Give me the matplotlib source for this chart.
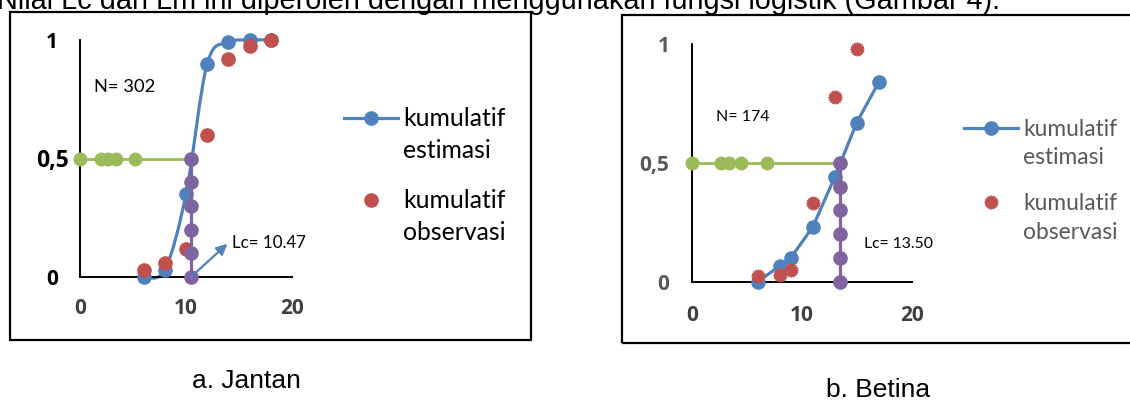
import matplotlib
matplotlib.use("Agg")
import matplotlib.pyplot as plt
from matplotlib.patches import Rectangle, PathPatch
from matplotlib.path import Path
from matplotlib.lines import Line2D
import numpy as np

# a. Jantan
j_len = [6, 8, 10, 12, 14, 16, 18]
j_est = [0.0, 0.03, 0.35, 0.90, 0.99, 1.0, 1.0]
j_obs = [0.03, 0.06, 0.12, 0.60, 0.92, 0.975, 1.0]
j_lc = 10.47
j_n = 302
j_half_x = [0, 2.0, 2.6, 3.4, 5.2, j_lc]
j_drop_y = [0.5, 0.4, 0.3, 0.2, 0.1, 0.0]

# b. Betina
b_len_est = [6, 8, 9, 11, 13, 15, 17]
b_est = [0.0, 0.066, 0.10, 0.23, 0.44, 0.67, 0.84]
b_len_obs = [6, 8, 9, 11, 13, 15]
b_obs = [0.024, 0.03, 0.05, 0.33, 0.78, 0.98]
b_lc = 13.50
b_n = 174
b_half_x = [0, 2.7, 3.4, 4.5, 6.8, b_lc]
b_drop_y = [0.5, 0.4, 0.3, 0.2, 0.1, 0.0]

xticks = [0, 10, 20]
yticks = [0, 0.5, 1]
ylabels = ["0", "0,5", "1"]

BLUE = "#4F81BD"
RED = "#C0504D"
GREEN = "#9BBB59"
PURPLE = "#8064A2"

W, H = 1130, 401
fig = plt.figure(figsize=(W / 100, H / 100), dpi=100)


def fx(px):
    return px / W


def fy(py):
    return 1 - py / H


def smooth_path(xs, ys, t=1 / 6):
    # excel-like smoothed line (catmull-rom as bezier)
    pts = np.column_stack([xs, ys]).astype(float)
    n = len(pts)
    verts = [pts[0]]
    codes = [Path.MOVETO]
    for i in range(n - 1):
        p0 = pts[max(i - 1, 0)]
        p1 = pts[i]
        p2 = pts[i + 1]
        p3 = pts[min(i + 2, n - 1)]
        verts += [p1 + (p2 - p0) * t, p2 - (p3 - p1) * t, p2]
        codes += [Path.CURVE4] * 3
    return Path(verts, codes)


def setup(ax, ycol, xcol, xpad, ypad, yha):
    ax.set_xlim(0, 20)
    ax.set_ylim(0, 1)
    ax.patch.set_alpha(0)
    for s in ["top", "right"]:
        ax.spines[s].set_visible(False)
    for s in ["left", "bottom"]:
        ax.spines[s].set_color("black")
        ax.spines[s].set_linewidth(1.4)
    ax.set_xticks(xticks)
    ax.set_yticks(yticks)
    ax.set_yticklabels(ylabels)
    ax.tick_params(length=0)
    ax.tick_params(axis="x", pad=xpad, labelcolor=xcol)
    ax.tick_params(axis="y", pad=ypad, labelcolor=ycol)
    for lab in ax.get_xticklabels() + ax.get_yticklabels():
        lab.set_fontfamily("Open Sans")
        lab.set_fontweight("bold")
        lab.set_fontsize(15)
    for lab in ax.get_yticklabels():
        lab.set_horizontalalignment(yha)


# frames
fig.add_artist(Rectangle((fx(10), fy(340)), fx(521), 328 / H, transform=fig.transFigure,
                         fill=False, lw=1.6, ec="black"))
fig.add_artist(Rectangle((fx(622), fy(343)), fx(530), 328 / H, transform=fig.transFigure,
                         fill=False, lw=1.6, ec="black"))

# ---------- a. Jantan ----------
ax1 = fig.add_axes([fx(80), fy(277), fx(212), 237 / H])
setup(ax1, "black", "#404040", 15, 20, "center")
ax1.get_yticklabels()[1].set_fontsize(16.5)
ax1.add_patch(PathPatch(smooth_path(j_len, j_est), fill=False, ec=BLUE, lw=2.3,
                        clip_on=False, zorder=2))
ax1.plot(j_len, j_est, "o", color=BLUE, ms=9.5, clip_on=False, zorder=3)
ax1.plot(j_len, j_obs, "o", color=RED, ms=9.5, clip_on=False, zorder=4)
ax1.plot(j_half_x, [0.5] * len(j_half_x), "-o", color=GREEN, lw=2, ms=9,
         clip_on=False, zorder=5)
ax1.plot([j_lc] * len(j_drop_y), j_drop_y, "-o", color=PURPLE, lw=2.3, ms=9.5,
         clip_on=False, zorder=6)
ax1.annotate("", xy=(13.9, 0.14), xytext=(j_lc, 0),
             arrowprops=dict(arrowstyle="-|>", color=BLUE, lw=1.6, mutation_scale=16,
                             shrinkA=0, shrinkB=0), zorder=7)
ax1.text(14.35, 0.145, f"Lc= {j_lc:.2f}", fontsize=12.2, family="Lato", va="center")
ax1.text(1.3, 0.8, f"N= {j_n}", fontsize=13.2, family="Lato", va="center")

# ---------- b. Betina ----------
ax2 = fig.add_axes([fx(691.7), fy(281.7), fx(220), 237.4 / H])
setup(ax2, "#595959", "#404040", 17, 16, "right")
star = Path.unit_regular_star(16, 0.78)
ax2.plot(b_len_est, b_est, "-o", color=BLUE, lw=2.3, ms=9.5, clip_on=False, zorder=3)
ax2.plot(b_len_obs, b_obs, linestyle="none", marker=star, color=RED, ms=9.5,
         clip_on=False, zorder=4)
ax2.plot(b_half_x, [0.5] * len(b_half_x), "-o", color=GREEN, lw=2, ms=9,
         clip_on=False, zorder=5)
ax2.plot([b_lc] * len(b_drop_y), b_drop_y, "-o", color=PURPLE, lw=2.3, ms=9.5,
         clip_on=False, zorder=6)
ax2.text(15.7, 0.16, f"Lc= {b_lc:.2f}", fontsize=11.3, family="Lato", va="center")
ax2.text(2.2, 0.695, f"N= {b_n}", fontsize=11.5, family="Lato", va="center")


# legends (drawn by hand so the marker sits on the first text line)
def legend(x0, x1, xt, y_est, y_obs, gap, col, size, obs_marker):
    fig.add_artist(Line2D([fx(x0), fx(x1)], [fy(y_est)] * 2, transform=fig.transFigure,
                          color=BLUE, lw=2.3))
    fig.add_artist(Line2D([fx((x0 + x1) / 2)], [fy(y_est)], transform=fig.transFigure,
                          color=BLUE, marker="o", ms=9.5, ls="none"))
    fig.add_artist(Line2D([fx((x0 + x1) / 2)], [fy(y_obs)], transform=fig.transFigure,
                          color=RED, marker=obs_marker, ms=9.5, ls="none"))
    for y, second in [(y_est, "estimasi"), (y_obs, "observasi")]:
        fig.text(fx(xt), fy(y + 1), "kumulatif", fontsize=size, family="Lato",
                 color=col, va="center", ha="left")
        fig.text(fx(xt), fy(y + 1 + gap), second, fontsize=size, family="Lato",
                 color=col, va="center", ha="left")


legend(344, 398, 403, 118, 200, 32, "black", 17.8, "o")
legend(964, 1018, 1023, 128, 202, 29, "#595959", 16.4, star)

# captions
fig.text(fx(-3), fy(9), "Nilai Lc dan Lm ini diperoleh dengan menggunakan fungsi logistik (Gambar 4).",
         fontsize=20.8, family="Liberation Sans", va="baseline", ha="left")
fig.text(fx(246), fy(381), "a. Jantan", fontsize=19, family="Liberation Sans",
         ha="center", va="center")
fig.text(fx(878), fy(390), "b. Betina", fontsize=19, family="Liberation Sans",
         ha="center", va="center")

fig.savefig("out.png", dpi=100)
